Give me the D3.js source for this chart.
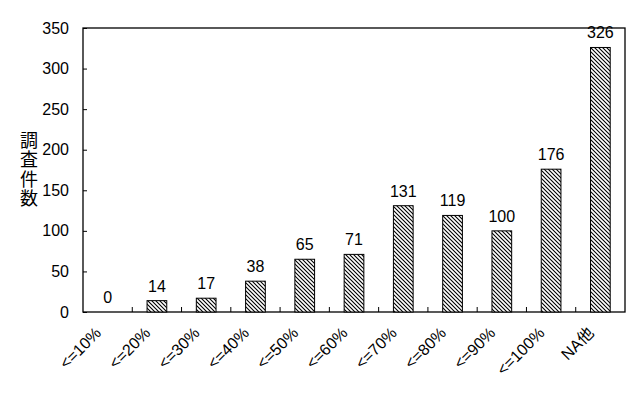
<!DOCTYPE html>
<html>
<head>
<meta charset="utf-8">
<script src="https://cdn.jsdelivr.net/npm/d3@7"></script>
<style>
  body { margin: 0; background: #fff; }
  text { font-family: "Liberation Sans", "Noto Sans CJK JP", sans-serif; fill: #000; }
</style>
</head>
<body>
<div id="chart"></div>
<script>
// Data
var categories = ["<=10%", "<=20%", "<=30%", "<=40%", "<=50%", "<=60%", "<=70%", "<=80%", "<=90%", "<=100%", "NA他"];
var counts = [0, 14, 17, 38, 65, 71, 131, 119, 100, 176, 326];
var yTicks = [0, 50, 100, 150, 200, 250, 300, 350];
var yTitle = "調査件数";

var svgWidth = 641;
var svgHeight = 398;

var margin = { top: 28, right: 16, bottom: 86, left: 83 };
var width = svgWidth - margin.left - margin.right;
var height = svgHeight - margin.top - margin.bottom;

var svg = d3.select("#chart")
    .append("svg")
    .attr("width", svgWidth)
    .attr("height", svgHeight);

// hatch pattern
var pattern = svg.append("defs").append("pattern")
    .attr("id", "hatch")
    .attr("patternUnits", "userSpaceOnUse")
    .attr("width", 4)
    .attr("height", 4);
pattern.append("rect").attr("width", 4).attr("height", 4).attr("fill", "#fff");
pattern.append("path")
    .attr("d", "M-1,-1 L5,5 M-1,3 L1,5 M3,-1 L5,1")
    .attr("stroke", "#000")
    .attr("stroke-width", 1.1);

var chartGroup = svg.append("g")
    .attr("transform", `translate(${margin.left}, ${margin.top})`);

var x = d3.scaleBand()
    .domain(categories)
    .range([0, width])
    .paddingInner(0.6)
    .paddingOuter(0.3);

var y = d3.scaleLinear()
    .domain([0, 350])
    .range([height, 0]);

// frame
chartGroup.append("rect")
    .attr("width", width)
    .attr("height", height)
    .attr("fill", "none")
    .attr("stroke", "#000")
    .attr("stroke-width", 1.3);

// y axis, ticks inside
var yAxis = chartGroup.append("g")
    .call(d3.axisLeft(y).tickValues(yTicks).tickSize(-4).tickPadding(14));
yAxis.select(".domain").remove();
yAxis.selectAll("line").attr("stroke", "#000");
yAxis.selectAll("text")
    .style("font-size", "16px")
    .style("font-family", "'Liberation Sans', sans-serif");

// x axis ticks at category boundaries
var boundaries = categories.slice(1).map((d, i) => (i + 1) * width / categories.length);
chartGroup.selectAll(".xtick")
    .data(boundaries)
    .enter()
    .append("line")
    .attr("x1", d => d)
    .attr("x2", d => d)
    .attr("y1", height)
    .attr("y2", height - 5)
    .attr("stroke", "#000");

// bars
chartGroup.selectAll(".bar")
    .data(counts)
    .enter()
    .append("rect")
    .attr("x", (d, i) => x(categories[i]))
    .attr("y", d => y(d))
    .attr("width", x.bandwidth())
    .attr("height", d => height - y(d))
    .attr("fill", "url(#hatch)")
    .attr("stroke", d => d > 0 ? "#000" : "none")
    .attr("stroke-width", 1);

// value labels
chartGroup.selectAll(".val")
    .data(counts)
    .enter()
    .append("text")
    .attr("x", (d, i) => x(categories[i]) + x.bandwidth() / 2)
    .attr("y", d => y(d) - 9)
    .attr("text-anchor", "middle")
    .style("font-size", "16px")
    .text(d => d);

// category labels, rotated
chartGroup.selectAll(".cat")
    .data(categories)
    .enter()
    .append("text")
    .attr("transform", d => `translate(${x(d) + x.bandwidth() / 2 - 5.5}, ${height + 22}) rotate(-45)`)
    .attr("text-anchor", "end")
    .style("font-size", "16px")
    .text(d => d);

// y title, stacked vertically
svg.append("text")
    .attr("x", 29)
    .attr("y", 170)
    .attr("text-anchor", "middle")
    .style("writing-mode", "vertical-rl")
    .style("font-family", "'Noto Sans CJK JP', sans-serif")
    .style("font-size", "18px")
    .style("letter-spacing", "1.5px")
    .text(yTitle);
</script>
</body>
</html>
